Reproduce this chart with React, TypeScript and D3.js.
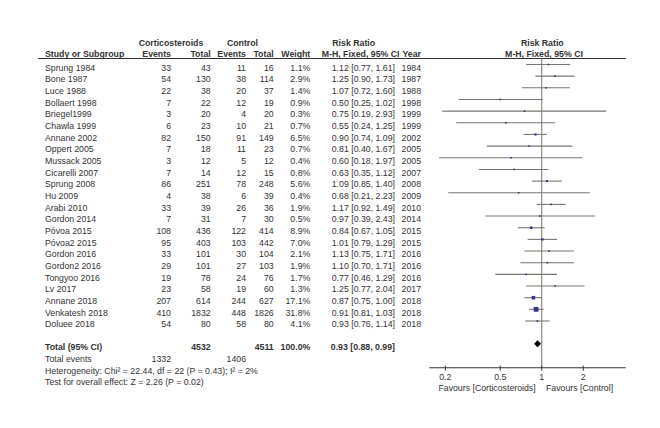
import React from "react";
import * as d3 from "d3";

const studies = ["Sprung 1984","Bone 1987","Luce 1988","Bollaert 1998","Briegel1999","Chawla 1999","Annane 2002","Oppert 2005","Mussack 2005","Cicarelli 2007","Sprung 2008","Hu 2009","Arabi 2010","Gordon 2014","Póvoa 2015","Póvoa2 2015","Gordon 2016","Gordon2 2016","Tongyoo 2016","Lv 2017","Annane 2018","Venkatesh 2018","Doluee 2018"];
const corticoEvents = [33,54,22,7,3,6,82,7,3,7,86,4,33,7,108,95,33,29,19,23,207,410,54];
const corticoTotal = [43,130,38,22,20,23,150,18,12,14,251,38,39,31,436,403,101,101,78,58,614,1832,80];
const controlEvents = [11,38,20,12,4,10,91,11,5,12,78,6,26,7,122,103,30,27,24,19,244,448,58];
const controlTotal = [16,114,37,19,20,21,149,23,12,15,248,39,36,30,414,442,104,103,76,60,627,1826,80];
const weights = [1.1,2.9,1.4,0.9,0.3,0.7,6.5,0.7,0.4,0.8,5.6,0.4,1.9,0.5,8.9,7.0,2.1,1.9,1.7,1.3,17.1,31.8,4.1];
const rr = [1.12,1.25,1.07,0.50,0.75,0.55,0.90,0.81,0.60,0.63,1.09,0.68,1.17,0.97,0.84,1.01,1.13,1.10,0.77,1.25,0.87,0.91,0.93];
const lower = [0.77,0.90,0.72,0.25,0.19,0.24,0.74,0.40,0.18,0.35,0.85,0.21,0.92,0.39,0.67,0.79,0.75,0.70,0.46,0.77,0.75,0.81,0.76];
const upper = [1.61,1.73,1.60,1.02,2.93,1.25,1.09,1.67,1.97,1.12,1.40,2.23,1.49,2.43,1.05,1.29,1.71,1.71,1.29,2.04,1.00,1.03,1.14];
const years = [1984,1987,1988,1998,1999,1999,2002,2005,2005,2007,2008,2009,2010,2014,2015,2015,2016,2016,2016,2017,2018,2018,2018];
const totalCortico = 4532;
const totalControl = 4511;
const totalEventsCortico = 1332;
const totalEventsControl = 1406;
const pooled = { rr: 0.93, lo: 0.88, hi: 0.99 };
const axisTicks = [0.2, 0.5, 1, 2];

const FONT = "'Liberation Sans', Arial, sans-serif";
const TXT = "#333";

const f2 = (v: number) => v.toFixed(2);

export default function App() {
  const x = d3.scaleLog().domain([0.153, 4.06]).range([429.3, 625.7]);
  const y = d3.scaleLinear().domain([0, studies.length - 1]).range([64.5, 321]);
  const size = (w: number) => Math.max(1.6, 0.85 * Math.sqrt(w));
  const fs = 8.75;
  const axisY = 367.7;
  const ref = x(1);

  const cols = { study: 45, ce: 171, ct: 210.7, ke: 246, kt: 273.7, w: 310.3, ci: 395, yr: 421 };

  return (
    <svg width={660} height={428} style={{ position: "absolute", left: 0, top: 0, background: "#fff" }} fontFamily={FONT} fontSize={fs} fill={TXT}>
      <rect width={660} height={428} fill="#fff" />
      <g fontWeight="bold">
        <text x={171} y={46} textAnchor="middle">Corticosteroids</text>
        <text x={242.5} y={46} textAnchor="middle">Control</text>
        <text x={353.7} y={46} textAnchor="middle">Risk Ratio</text>
        <text x={542.3} y={46} textAnchor="middle">Risk Ratio</text>
        <text x={cols.study} y={57}>Study or Subgroup</text>
        <text x={cols.ce} y={57} textAnchor="end">Events</text>
        <text x={cols.ct} y={57} textAnchor="end">Total</text>
        <text x={cols.ke} y={57} textAnchor="end">Events</text>
        <text x={cols.kt} y={57} textAnchor="end">Total</text>
        <text x={cols.w} y={57} textAnchor="end">Weight</text>
        <text x={399.5} y={57} textAnchor="end">M-H, Fixed, 95% CI</text>
        <text x={cols.yr} y={57} textAnchor="end">Year</text>
        <text x={544} y={57} textAnchor="middle">M-H, Fixed, 95% CI</text>
      </g>
      <line x1={38} x2={626} y1={58.5} y2={58.5} stroke="#333" strokeWidth={1.1} />
      <line x1={ref} x2={ref} y1={58.5} y2={axisY} stroke="#7d7163" strokeWidth={1} />
      {studies.map((s, i) => {
        const yy = y(i);
        const ty = yy + 6.2;
        const sz = size(weights[i]);
        return (
          <g key={s}>
            <text x={cols.study} y={ty}>{s}</text>
            <text x={cols.ce} y={ty} textAnchor="end">{corticoEvents[i]}</text>
            <text x={cols.ct} y={ty} textAnchor="end">{corticoTotal[i]}</text>
            <text x={cols.ke} y={ty} textAnchor="end">{controlEvents[i]}</text>
            <text x={cols.kt} y={ty} textAnchor="end">{controlTotal[i]}</text>
            <text x={cols.w} y={ty} textAnchor="end">{weights[i].toFixed(1)}%</text>
            <text x={cols.ci} y={ty} textAnchor="end">{`${f2(rr[i])} [${f2(lower[i])}, ${f2(upper[i])}]`}</text>
            <text x={cols.yr} y={ty} textAnchor="end">{years[i]}</text>
            <line x1={x(lower[i])} x2={x(upper[i])} y1={yy} y2={yy} stroke="#7a7570" strokeWidth={1.1} />
            <rect x={x(rr[i]) - sz / 2} y={yy - sz / 2} width={sz} height={sz} fill="#35357f" />
          </g>
        );
      })}
      <g fontWeight="bold">
        <text x={cols.study} y={349.7}>Total (95% CI)</text>
        <text x={cols.ct} y={349.7} textAnchor="end">{totalCortico}</text>
        <text x={cols.kt} y={349.7} textAnchor="end">{totalControl}</text>
        <text x={cols.w} y={349.7} textAnchor="end">100.0%</text>
        <text x={cols.ci} y={349.7} textAnchor="end">{`${f2(pooled.rr)} [${f2(pooled.lo)}, ${f2(pooled.hi)}]`}</text>
      </g>
      <path
        d={`M${x(pooled.lo)},343.8 L${x(pooled.rr)},340.3 L${x(pooled.hi)},343.8 L${x(pooled.rr)},347.3 Z`}
        fill="#000"
      />
      <text x={cols.study} y={362.3}>Total events</text>
      <text x={cols.ce} y={362.3} textAnchor="end">{totalEventsCortico}</text>
      <text x={cols.ke} y={362.3} textAnchor="end">{totalEventsControl}</text>
      <text x={cols.study} y={373.7}>Heterogeneity: Chi² = 22.44, df = 22 (P = 0.43); I² = 2%</text>
      <text x={cols.study} y={385.3}>Test for overall effect: Z = 2.26 (P = 0.02)</text>
      <line x1={429.3} x2={625.7} y1={axisY} y2={axisY} stroke="#333" strokeWidth={1.1} />
      {axisTicks.map((t) => (
        <g key={t}>
          <line x1={x(t)} x2={x(t)} y1={axisY - 2} y2={axisY + 3} stroke="#333" strokeWidth={1} />
          <text x={x(t)} y={380.3} textAnchor="middle">{String(t)}</text>
        </g>
      ))}
      <text x={535.7} y={391} textAnchor="end">Favours [Corticosteroids]</text>
      <text x={546} y={391}>Favours [Control]</text>
    </svg>
  );
}
